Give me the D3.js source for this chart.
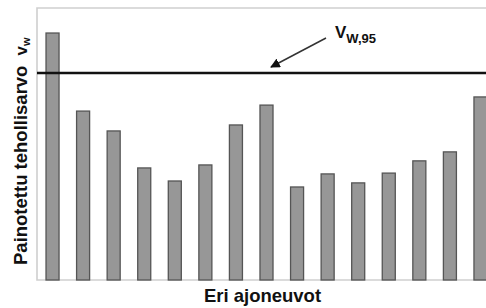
<!DOCTYPE html>
<html>
<head>
<meta charset="utf-8">
<script src="https://cdn.jsdelivr.net/npm/d3@7"></script>
<style>
  body { margin: 0; background: #fff; }
  svg { display: block; font-family: "Liberation Sans", Arial, sans-serif; }
</style>
</head>
<body>
<div id="wrapper"></div>
<script>
// data (relative units, top of plot = 100)
const vehicles = d3.range(1, 16)
const weightedRms = [90.8, 62.1, 54.8, 41.2, 36.4, 42.3, 57.0, 64.3, 34.2, 39.0, 35.7, 39.3, 43.8, 47.1, 67.3]
const limitValue = 76.1
const limitLabel = ["V", "W,95"]

const dimensions = {
    width: 486,
    height: 308,
    margin: { top: 8, right: -10, bottom: 28, left: 37 }
}
dimensions.boundedWidth = dimensions.width - dimensions.margin.left - dimensions.margin.right
dimensions.boundedHeight = dimensions.height - dimensions.margin.top - dimensions.margin.bottom

const svg = d3.select("#wrapper")
    .append("svg")
    .attr("width", dimensions.width)
    .attr("height", dimensions.height)

const bounds = svg.append("g")
    .attr("transform", `translate(${dimensions.margin.left},${dimensions.margin.top})`)

// scales
const xScale = d3.scaleBand()
    .domain(vehicles)
    .range([0, dimensions.boundedWidth])
    .paddingInner(0.574)
    .paddingOuter(0.295)

const yScale = d3.scaleLinear()
    .domain([0, 100])
    .range([dimensions.boundedHeight, 0])

// frame (left, top, bottom in light grey)
bounds.append("path")
    .attr("d", `M${dimensions.boundedWidth + 20},0H0V${dimensions.boundedHeight}H${dimensions.boundedWidth + 20}`)
    .attr("fill", "none")
    .attr("stroke", "#cfcfcf")
    .attr("stroke-width", 1.6)

// bars
bounds.append("g")
    .selectAll("rect")
    .data(vehicles)
    .join("rect")
    .attr("x", d => xScale(d))
    .attr("y", (d, i) => yScale(weightedRms[i]))
    .attr("width", xScale.bandwidth())
    .attr("height", (d, i) => yScale(0) - yScale(weightedRms[i]))
    .attr("fill", "#979797")
    .attr("stroke", "#555")
    .attr("stroke-width", 1.3)

// limit line
bounds.append("line")
    .attr("x1", 0)
    .attr("x2", dimensions.boundedWidth + 20)
    .attr("y1", yScale(limitValue))
    .attr("y2", yScale(limitValue))
    .attr("stroke", "#111")
    .attr("stroke-width", 2.4)

// arrow + label
svg.append("defs").append("marker")
    .attr("id", "head")
    .attr("viewBox", "0 0 10 10")
    .attr("refX", 9)
    .attr("refY", 5)
    .attr("markerWidth", 6.5)
    .attr("markerHeight", 6.5)
    .attr("orient", "auto")
    .append("path")
    .attr("d", "M0,0L10,5L0,10Z")
    .attr("fill", "#111")

bounds.append("line")
    .attr("x1", 326 - dimensions.margin.left)
    .attr("y1", 38 - dimensions.margin.top)
    .attr("x2", 271 - dimensions.margin.left)
    .attr("y2", yScale(limitValue) - 6)
    .attr("stroke", "#333")
    .attr("stroke-width", 1.5)
    .attr("marker-end", "url(#head)")

const lbl = bounds.append("text")
    .attr("x", 335 - dimensions.margin.left)
    .attr("y", 38 - dimensions.margin.top)
    .attr("font-weight", "bold")
    .attr("fill", "#111")
lbl.append("tspan").attr("font-size", 17).text(limitLabel[0])
lbl.append("tspan").attr("font-size", 13).attr("dy", 5).text(limitLabel[1])

// axis titles
svg.append("text")
    .attr("x", dimensions.margin.left + dimensions.boundedWidth / 2 - 4)
    .attr("y", 302)
    .attr("text-anchor", "middle")
    .attr("font-size", 18.5)
    .attr("font-weight", "bold")
    .attr("fill", "#111")
    .text("Eri ajoneuvot")

const yTitle = svg.append("text")
    .attr("transform", "translate(27,265) rotate(-90)")
    .attr("font-weight", "bold")
    .attr("fill", "#111")
yTitle.append("tspan").attr("font-size", 18.5).text("Painotettu tehollisarvo")
yTitle.append("tspan").attr("font-size", 17).attr("dx", 10).text("v")
yTitle.append("tspan").attr("font-size", 11).attr("dy", 3).text("w")
</script>
</body>
</html>
